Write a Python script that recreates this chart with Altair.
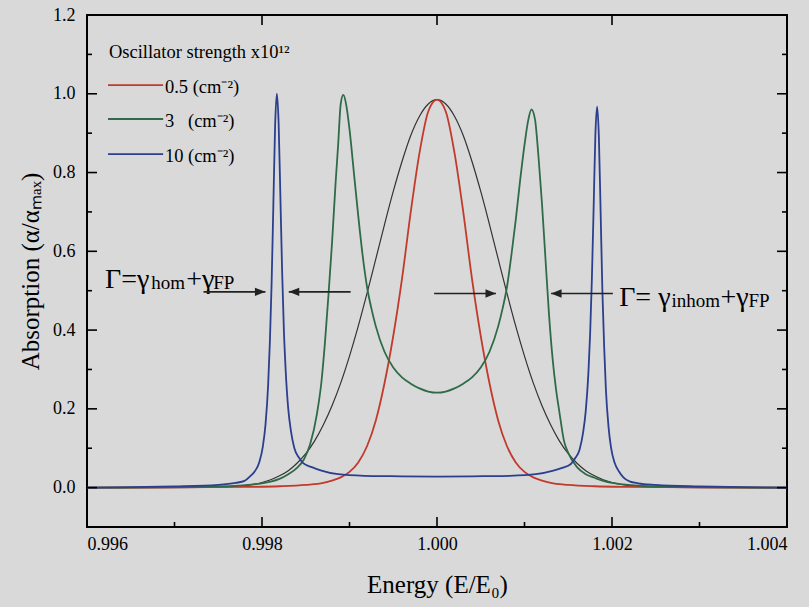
import altair as alt
import pandas as pd

# ---------------- data ----------------
# Energy (E/E0) and absorption (alpha/alpha_max) for each curve
red_E = [0.996, 0.997, 0.9978, 0.9982, 0.9985, 0.9987, 0.9988, 0.9989, 0.999, 0.9991,
         0.9992, 0.9993, 0.9994, 0.9995, 0.9996, 0.9997, 0.9998, 0.9999, 1.0,
         1.0001, 1.0002, 1.0003, 1.0004, 1.0005, 1.0006, 1.0007, 1.0008, 1.0009,
         1.001, 1.0011, 1.0012, 1.0013, 1.0015, 1.0018, 1.0022, 1.003, 1.004]
red_A = [0.0, 0.0006, 0.0018, 0.0035, 0.007, 0.012, 0.018, 0.026, 0.040, 0.064,
         0.105, 0.17, 0.265, 0.385, 0.53, 0.70, 0.85, 0.955, 0.985,
         0.955, 0.85, 0.70, 0.53, 0.385, 0.265, 0.17, 0.105, 0.064,
         0.040, 0.026, 0.018, 0.012, 0.007, 0.0035, 0.0018, 0.0006, 0.0]

black_E = [0.996, 0.997, 0.9973, 0.9976, 0.9978, 0.998, 0.9981, 0.9982, 0.9983, 0.9984,
           0.9985, 0.9986, 0.9987, 0.9988, 0.9989, 0.999, 0.9991, 0.9992, 0.9993, 0.9994,
           0.9995, 0.9996, 0.9997, 0.9998, 0.9999, 1.0,
           1.0001, 1.0002, 1.0003, 1.0004, 1.0005, 1.0006, 1.0007, 1.0008, 1.0009, 1.001,
           1.0011, 1.0012, 1.0013, 1.0014, 1.0015, 1.0016, 1.0017, 1.0018, 1.0019,
           1.002, 1.0022, 1.0024, 1.0027, 1.003, 1.004]
black_A = [0.0, 0.0, 0.0004, 0.002, 0.005, 0.013, 0.02, 0.03, 0.043, 0.062,
           0.086, 0.118, 0.159, 0.208, 0.266, 0.334, 0.41, 0.493, 0.58, 0.668,
           0.752, 0.828, 0.894, 0.943, 0.974, 0.985,
           0.974, 0.943, 0.894, 0.828, 0.752, 0.668, 0.58, 0.493, 0.41, 0.334,
           0.266, 0.208, 0.159, 0.118, 0.086, 0.062, 0.043, 0.03, 0.02,
           0.013, 0.005, 0.002, 0.0004, 0.0, 0.0]

green_E = [0.996, 0.997, 0.9975, 0.998, 0.9981, 0.9982, 0.9983, 0.9984, 0.99848, 0.99855,
           0.99863, 0.99868, 0.99872, 0.99876, 0.9988, 0.99884, 0.99887, 0.9989, 0.99893, 0.99896,
           0.999, 0.99905, 0.9991, 0.99915, 0.9992, 0.99925, 0.9993, 0.9994, 0.9995, 0.9996,
           0.9997, 0.9998, 0.9999, 1.0,
           1.0001, 1.0002, 1.0003, 1.0004, 1.0005, 1.0006, 1.0007, 1.00075, 1.0008, 1.00085,
           1.0009, 1.00095, 1.001, 1.00104, 1.00108, 1.00112, 1.00116, 1.0012, 1.00124, 1.00128,
           1.00132, 1.00136, 1.0014, 1.00145, 1.0015, 1.0016, 1.0017, 1.0018, 1.0019, 1.002,
           1.0025, 1.003, 1.004]
green_A = [0.0, 0.001, 0.003, 0.011, 0.015, 0.022, 0.034, 0.05, 0.072, 0.11,
           0.19, 0.27, 0.37, 0.49, 0.62, 0.77, 0.87, 0.975, 0.997, 0.975,
           0.91, 0.80, 0.69, 0.59, 0.51, 0.455, 0.41, 0.345, 0.305, 0.28,
           0.264, 0.252, 0.244, 0.241,
           0.244, 0.252, 0.264, 0.28, 0.305, 0.345, 0.41, 0.455, 0.51, 0.59,
           0.68, 0.78, 0.87, 0.93, 0.96, 0.935, 0.84, 0.72, 0.58, 0.44,
           0.33, 0.25, 0.19, 0.12, 0.088, 0.052, 0.034, 0.025, 0.017, 0.012,
           0.003, 0.001, 0.0]

blue_E = [0.996, 0.9965, 0.997, 0.9975, 0.9977, 0.9978, 0.99787, 0.99792, 0.99797, 0.99801,
          0.99804, 0.99807, 0.99809, 0.99811, 0.99813, 0.99815, 0.99817,
          0.99819, 0.99821, 0.99823, 0.99825, 0.99827, 0.9983, 0.99833, 0.99837, 0.99842,
          0.99847, 0.99857, 0.99867, 0.99887, 0.99917, 0.99947, 1.0,
          1.00053, 1.00083, 1.00113, 1.00133, 1.00143, 1.00153, 1.00158, 1.00163, 1.00167,
          1.0017, 1.00173, 1.00175, 1.00177, 1.00179, 1.00181, 1.00183,
          1.00185, 1.00187, 1.00189, 1.00191, 1.00193, 1.00196, 1.00199, 1.00203, 1.00208,
          1.00213, 1.0022, 1.0023, 1.0025, 1.003, 1.0035, 1.004]
blue_A = [0.0, 0.001, 0.003, 0.007, 0.012, 0.017, 0.03, 0.042, 0.065, 0.105,
          0.16, 0.26, 0.37, 0.52, 0.72, 0.92, 1.0,
          0.925, 0.74, 0.55, 0.40, 0.30, 0.20, 0.145, 0.10, 0.077,
          0.062, 0.052, 0.044, 0.034, 0.030, 0.029, 0.028,
          0.029, 0.030, 0.034, 0.043, 0.050, 0.06, 0.075, 0.097, 0.14,
          0.195, 0.29, 0.39, 0.53, 0.71, 0.895, 0.967,
          0.89, 0.70, 0.50, 0.36, 0.25, 0.155, 0.10, 0.063, 0.041,
          0.026, 0.016, 0.011, 0.007, 0.003, 0.001, 0.0]

legend_title = "Oscillator strength x10¹²"
legend_labels = ["0.5 (cm⁻²)", "3\u2002 (cm⁻²)", "10 (cm⁻²)"]
series_colors = ["#c13a2c", "#2f6b47", "#2b3f8f"]
black_color = "#333333"

x_tick_labels = [0.996, 0.998, 1.000, 1.002, 1.004]
y_tick_labels = [0.0, 0.2, 0.4, 0.6, 0.8, 1.0, 1.2]
x_major_ticks = [0.998, 1.000, 1.002]
x_minor_ticks = [0.997, 0.999, 1.001, 1.003]
y_major_ticks = [0.0, 0.2, 0.4, 0.6, 0.8, 1.0]
y_minor_ticks = [0.1, 0.3, 0.5, 0.7, 0.9, 1.1]

# ---------------- layout ----------------
W, H = 700, 512
FONT = "Liberation Serif"
xs = alt.Scale(domain=[0.996, 1.004], nice=False, zero=False)
ys = alt.Scale(domain=[-0.1, 1.2], nice=False, zero=False)
ax_x = alt.Axis(values=x_tick_labels, format=".3f", title="Energy (E/E₀)",
                ticks=False, domain=False, grid=False, labelPadding=8, titlePadding=19)
ax_y = alt.Axis(values=y_tick_labels, format=".1f", title="Absorption (α/αₘₐₓ)",
                ticks=False, domain=False, grid=False, labelPadding=12, titlePadding=9)


def X(field):
    return alt.X(field, type="quantitative", scale=xs, axis=ax_x)


def Y(field):
    return alt.Y(field, type="quantitative", scale=ys, axis=ax_y)


def curve(E, A, color, width):
    df = pd.DataFrame({"E": E, "A": A})
    return alt.Chart(df).mark_line(color=color, strokeWidth=width, interpolate="monotone").encode(
        x=X("E"), y=Y("A"))


black_layer = curve(black_E, black_A, black_color, 1.2)
red_layer = curve(red_E, red_A, series_colors[0], 1.8)
green_layer = curve(green_E, green_A, series_colors[1], 1.8)
blue_layer = curve(blue_E, blue_A, series_colors[2], 1.8)


def xticks(vals, y0, y1):
    return alt.Chart(pd.DataFrame({"E": vals})).mark_rule(color="black", strokeWidth=1.6).encode(
        x=X("E"), y=alt.value(y0), y2=alt.value(y1))


def yticks(vals, x0, x1):
    return alt.Chart(pd.DataFrame({"A": vals})).mark_rule(color="black", strokeWidth=1.6).encode(
        y=Y("A"), x=alt.value(x0), x2=alt.value(x1))


ticks = [
    xticks(x_major_ticks, H, H - 10), xticks(x_minor_ticks, H, H - 5),
    xticks(x_major_ticks, 0, 10),
    yticks(y_major_ticks, 0, 10), yticks(y_minor_ticks, 0, 5),
    yticks(y_major_ticks, W, W - 10), yticks(y_minor_ticks, W, W - 5),
]

# legend (inside plot, top-left)
leg_df = pd.DataFrame({
    "label": legend_labels,
    "color": series_colors,
    "E": [0.99624] * 3,
    "E2": [0.99687] * 3,
    "Et": [0.99689] * 3,
    "A": [1.022, 0.936, 0.847],
})
leg_lines = alt.Chart(leg_df).mark_rule(strokeWidth=1.8).encode(
    x=X("E"), x2="E2:Q", y=Y("A"), color=alt.Color("color:N", scale=None))
leg_text = alt.Chart(leg_df).mark_text(align="left", baseline="middle", font=FONT, fontSize=18.5,
                                        color="black", dy=2).encode(
    x=X("Et"), y=Y("A"), text="label:N")
leg_title = alt.Chart(pd.DataFrame({"E": [0.99625], "A": [1.09], "t": [legend_title]})).mark_text(
    align="left", baseline="alphabetic", font=FONT, fontSize=18.5, color="black").encode(
    x=X("E"), y=Y("A"), text="t:N")

# annotations: Γ formulas (main text + smaller subscripts) with arrows
ann_df = pd.DataFrame({
    "E": [0.996206, 0.996733, 0.997134, 0.997443, 1.002082, 1.002679, 1.003240, 1.003560],
    "A": [0.5066, 0.5055, 0.5066, 0.5055, 0.4609, 0.4598, 0.4609, 0.4598],
    "t": ["Γ=γ", "hom", "+γ", "FP", "Γ= γ", "inhom", "+γ", "FP"],
    "fs": [28, 19, 28, 19, 28, 19, 28, 19],
})
ann_text = alt.Chart(ann_df).mark_text(align="left", baseline="alphabetic", font=FONT,
                                        color="black").encode(
    x=X("E"), y=Y("A"), text="t:N", size=alt.Size("fs:Q", scale=None))

arrow_df = pd.DataFrame({
    "E": [0.997332, 0.999013, 0.999967, 1.002010],
    "E2": [0.998039, 0.998306, 1.000674, 1.001304],
    "A": [0.497, 0.497, 0.493, 0.493],
    "dir": ["r", "l", "r", "l"],
})
arrow_lines = alt.Chart(arrow_df).mark_rule(color="#222222", strokeWidth=1.6).encode(
    x=X("E"), x2="E2:Q", y=Y("A"))
head_r = alt.Chart(arrow_df).transform_filter("datum.dir == 'r'").mark_point(
    shape="M0,0L-2,-0.8L-2,0.8Z", filled=True, color="#222222", opacity=1, size=110).encode(
    x=X("E2"), y=Y("A"))
head_l = alt.Chart(arrow_df).transform_filter("datum.dir == 'l'").mark_point(
    shape="M0,0L2,-0.8L2,0.8Z", filled=True, color="#222222", opacity=1, size=110).encode(
    x=X("E2"), y=Y("A"))

chart = alt.layer(
    black_layer, red_layer, green_layer, blue_layer,
    *ticks, leg_lines, leg_text, leg_title, ann_text, arrow_lines, head_r, head_l,
).properties(
    width=W, height=H,
    padding={"left": 87, "top": 15, "right": 22, "bottom": 80},
    autosize=alt.AutoSizeParams(type="none"),
    background="#d9d9d9",
).configure_view(
    stroke="black", strokeWidth=2,
).configure_axis(
    labelFont=FONT, labelFontSize=18, labelColor="black",
    titleFont=FONT, titleFontSize=25, titleFontWeight="normal", titleColor="black",
)

chart.save("out.html", embed_options={"renderer": "svg", "actions": False})
